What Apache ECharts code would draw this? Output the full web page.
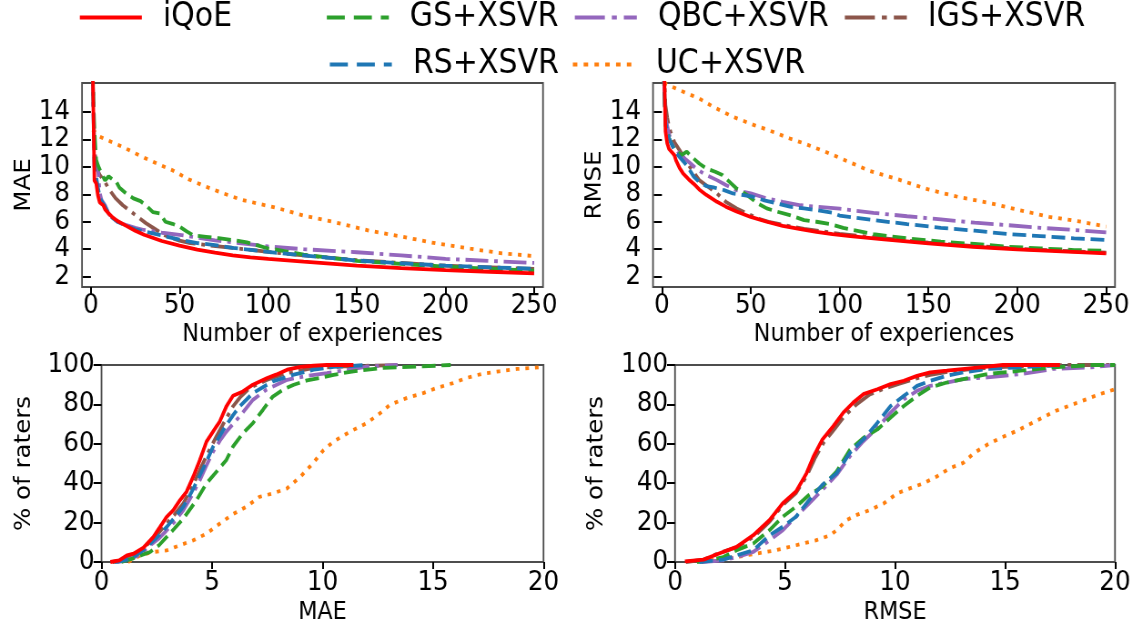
<!DOCTYPE html>
<html>
<head>
<meta charset="utf-8">
<script src="https://cdn.jsdelivr.net/npm/echarts@6/dist/echarts.min.js"></script>
<style>
html,body{margin:0;padding:0;background:#fff;overflow:hidden;width:1139px;height:626px;}
#chart{width:1252px;height:626px;transform:scaleX(0.91);transform-origin:0 0;}
</style>
</head>
<body>
<div id="chart"></div>
<script>
// ---------- names ----------
const seriesNames = ['iQoE', 'GS+XSVR', 'QBC+XSVR', 'IGS+XSVR', 'RS+XSVR', 'UC+XSVR'];

// ---------- tick labels ----------
const expTicks = [0, 50, 100, 150, 200, 250];
const errTicks = [2, 4, 6, 8, 10, 12, 14];

// ---------- MAE vs number of experiences [x, MAE] ----------
const maeExpIQoE = [[1,17.5],[2,9.0],[3,8.8],[4,7.9],[5,7.4],[6,7.3],[7,7.2],[8,6.9],[10,6.6],[12,6.35],[15,6.05],[20,5.7],[25,5.35],[30,5.05],[40,4.6],[50,4.26],[60,3.97],[70,3.75],[80,3.56],[90,3.41],[100,3.3],[120,3.09],[150,2.8],[175,2.63],[200,2.48],[225,2.36],[250,2.24]];
const maeExpGS = [[1,17],[2,12.7],[3,10.5],[4,10.1],[5,10.1],[6,9.5],[8,9.0],[10,9.3],[12,9.1],[14,9.0],[16,8.5],[20,8.05],[24,7.7],[28,7.5],[31,7.2],[35,6.7],[39,6.6],[42,6.0],[46,5.85],[50,5.65],[54,5.3],[58,5.0],[65,4.9],[72,4.8],[80,4.67],[88,4.5],[100,4.05],[106,3.94],[120,3.6],[150,3.15],[175,2.93],[200,2.73],[225,2.58],[250,2.44]];
const maeExpQBC = [[1,17],[2,10.0],[3,10.0],[4,9.9],[5,8.1],[6,7.6],[8,7.2],[10,6.6],[12,6.3],[15,6.0],[20,5.75],[25,5.55],[30,5.4],[40,5.2],[50,5.05],[60,4.85],[70,4.65],[80,4.5],[90,4.35],[100,4.2],[120,4.0],[150,3.78],[175,3.55],[200,3.3],[225,3.15],[250,3.0]];
const maeExpIGS = [[1,17],[2,11.5],[3,10.0],[5,9.4],[8,8.9],[10,8.4],[14,7.7],[18,7.2],[24,6.6],[31,5.9],[37,5.4],[42,5.0],[50,4.62],[56,4.45],[65,4.3],[80,4.1],[100,3.8],[120,3.55],[150,3.2],[175,3.0],[200,2.8],[225,2.68],[250,2.56]];
const maeExpRS = [[1,17],[2,10.0],[3,9.9],[4,8.5],[5,7.8],[6,7.5],[8,7.1],[10,6.6],[12,6.3],[15,6.0],[20,5.7],[25,5.45],[30,5.3],[40,5.0],[50,4.7],[60,4.45],[70,4.3],[80,4.1],[90,3.95],[100,3.8],[120,3.55],[150,3.18],[175,2.98],[200,2.8],[225,2.68],[250,2.58]];
const maeExpUC = [[1,12.7],[5,12.2],[10,11.9],[18,11.45],[27,10.85],[37,10.25],[46,9.75],[55,9.1],[65,8.55],[75,8.05],[85,7.6],[95,7.3],[105,7.0],[120,6.45],[138,5.95],[157,5.35],[176,4.9],[195,4.42],[214,4.04],[232,3.7],[250,3.5]];

// ---------- RMSE vs number of experiences [x, RMSE] ----------
const rmseExpIQoE = [[1,19],[2,12.6],[3,11.7],[4,11.3],[5,11.15],[6,11.0],[7,10.85],[8,10.45],[10,9.9],[12,9.5],[15,9.1],[18,8.75],[21,8.35],[25,7.95],[31,7.45],[36,7.1],[42,6.75],[50,6.35],[59,6.0],[68,5.7],[78,5.47],[87,5.27],[96,5.1],[106,4.96],[125,4.72],[150,4.42],[175,4.18],[200,3.99],[225,3.84],[250,3.7]];
const rmseExpGS = [[1,17],[2,13.0],[3,12.67],[4,12.1],[5,11.8],[7,11.3],[11,10.85],[14,11.1],[17,10.7],[21,10.24],[25,9.88],[30,9.64],[34,9.4],[37,9.03],[42,8.42],[48,7.94],[54,7.33],[59,6.97],[65,6.73],[72,6.48],[80,6.12],[87,6.0],[95,5.83],[102,5.55],[119,5.1],[138,4.79],[157,4.55],[176,4.38],[195,4.18],[213,4.06],[232,3.94],[250,3.89]];
const rmseExpQBC = [[1,17],[2,13.5],[3,13.0],[4,12.4],[6,11.6],[9,11.1],[12,10.7],[16,10.25],[20,9.8],[25,9.4],[31,9.03],[36,8.67],[42,8.3],[50,8.06],[59,7.7],[68,7.45],[78,7.2],[87,7.09],[100,6.95],[119,6.65],[138,6.4],[157,6.17],[176,5.93],[194,5.76],[213,5.56],[232,5.4],[250,5.22]];
const rmseExpIGS = [[1,18],[2,14.5],[3,13.6],[4,12.9],[5,12.5],[7,11.8],[10,11.2],[13,10.5],[17,9.76],[21,9.03],[26,8.55],[31,8.06],[36,7.45],[42,6.97],[48,6.6],[54,6.24],[60,6.0],[70,5.72],[80,5.48],[90,5.3],[100,5.12],[125,4.78],[150,4.48],[175,4.24],[200,4.04],[225,3.88],[250,3.75]];
const rmseExpRS = [[1,17],[2,13.2],[3,12.6],[4,12.1],[6,11.5],[8,11.0],[10,10.7],[14,10.1],[18,9.27],[21,8.9],[25,8.6],[29,8.5],[35,8.3],[40,8.06],[46,7.94],[51,7.82],[57,7.58],[65,7.33],[72,7.1],[80,6.97],[87,6.85],[96,6.65],[100,6.45],[119,6.12],[138,5.83],[157,5.56],[176,5.35],[195,5.1],[213,4.96],[232,4.79],[250,4.67]];
const rmseExpUC = [[1,16.1],[10,15.57],[21,14.97],[29,14.36],[40,13.64],[52,13.03],[60,12.67],[72,12.06],[80,11.7],[92,11.1],[100,10.65],[117,9.7],[133,9.08],[150,8.35],[167,7.8],[184,7.38],[201,6.85],[218,6.36],[236,6.0],[250,5.64]];

// ---------- CDF of MAE [MAE, % of raters] ----------
const maeCdfIQoE = [[0.4,0],[0.8,0.8],[1.15,3.4],[1.45,4.2],[1.9,7.3],[2.35,12.7],[2.65,17.8],[2.95,22.9],[3.25,26.3],[3.55,31.4],[3.85,35.7],[4.15,43.3],[4.45,51.8],[4.75,61.1],[5.15,67.9],[5.35,71.3],[5.65,79],[5.95,84.4],[6.4,86.6],[6.85,90],[7.5,93.4],[7.9,95.1],[8.4,97.6],[9.0,99],[9.6,99.7],[10.2,100],[11.4,100]];
const maeCdfGS = [[0.9,0],[1.4,1.7],[1.8,3.5],[2.2,5.1],[2.6,8.5],[2.95,12.7],[3.3,17],[3.7,22],[4.3,31.4],[4.75,39.9],[5.2,45.8],[5.65,51.8],[5.95,58.6],[6.4,65.4],[6.85,70.5],[7.3,77.2],[7.75,84],[8.2,87.4],[8.7,90],[9.3,92.2],[9.9,93.4],[10.5,95],[11.4,96.8],[12.75,98.5],[14.5,99.3],[15.8,100]];
const maeCdfQBC = [[0.7,0],[1.2,1],[1.6,3],[1.9,5.5],[2.2,8.5],[2.6,12],[2.95,16.1],[3.3,20.5],[3.7,26.3],[4.1,34],[4.45,41.6],[4.75,49],[5.05,56],[5.35,61.5],[5.65,66.2],[5.95,70],[6.25,73.9],[6.85,82.3],[7.45,87.4],[8.4,92.5],[9.3,94.5],[10.2,95.9],[11.2,97.6],[12,99.2],[13.4,100]];
const maeCdfIGS = [[0.5,0],[1,1],[1.3,3],[1.8,6],[2.2,10.2],[2.6,15],[2.95,19.5],[3.3,24],[3.7,29.7],[4.1,38],[4.45,46.7],[4.8,55],[5.2,63.7],[5.6,72],[5.95,79],[6.3,84],[6.7,88.3],[7.5,92.5],[8.4,95.9],[9.6,98.5],[11,99.3],[13.5,100]];
const maeCdfRS = [[0.6,0],[1.1,1],[1.5,3],[1.9,6],[2.2,9.3],[2.6,13.5],[2.95,17.8],[3.3,22.5],[3.7,28],[4.1,36],[4.45,44],[4.75,51],[5.05,58.6],[5.35,64],[5.65,69.6],[5.95,74.5],[6.25,79],[6.85,85.7],[7.75,91.7],[8.7,95.1],[9.6,97.6],[10.5,99],[12,100]];
const maeCdfUC = [[1.2,0],[1.75,3.4],[2.35,5.1],[2.95,5.9],[3.55,8.5],[4.15,11],[4.75,14.4],[5.35,19.5],[5.95,24.3],[6.55,28],[7.15,33.1],[7.75,34.8],[8.4,37.4],[9.0,43.3],[9.6,50.5],[10.05,56.9],[10.5,61.1],[11.25,66.2],[12,70.5],[12.6,75.5],[13.05,79.8],[13.8,83.2],[14.55,85.7],[15.15,88.3],[15.9,90.8],[16.5,93.4],[17.25,95.6],[18,96.8],[18.8,98],[19.5,98.5],[20,99]];

// ---------- CDF of RMSE [RMSE, % of raters] ----------
const rmseCdfIQoE = [[0.45,0.3],[1.3,1.2],[2.0,4.3],[2.8,7.7],[3.56,13.6],[4.3,21.3],[4.9,29.8],[5.5,35.8],[5.98,45.1],[6.3,53.7],[6.7,62.2],[7.2,69],[7.65,75.8],[8.1,80.9],[8.56,85.2],[9.2,87.7],[9.8,90.3],[10.4,92],[11.0,94.5],[11.6,96.3],[12.35,97.1],[13.4,98.3],[14.9,100],[17.5,100]];
const rmseCdfGS = [[1.0,0],[1.6,1],[2.2,2.5],[2.8,6],[3.56,9.4],[4.3,16.2],[4.9,23],[5.5,28.1],[6.1,34.1],[6.7,38.3],[7.35,46],[7.95,57],[8.56,63],[9.2,67.3],[9.8,73.3],[10.4,79.2],[11.0,84.3],[11.6,88.6],[12.35,91.1],[13.1,92.8],[14.2,95.4],[15.7,97.1],[17.2,98.8],[19.0,100],[20,100]];
const rmseCdfQBC = [[1.2,0],[2.2,0.85],[2.8,2.5],[3.56,5.1],[4.3,11],[4.9,16.2],[5.5,23],[6.1,29.8],[6.7,36.6],[7.35,44.3],[7.95,53.7],[8.56,61.3],[9.2,68.1],[9.8,75.8],[10.4,82.6],[11.0,86.9],[11.6,89.4],[12.35,91.1],[13.1,92.8],[14.2,93.7],[15.7,95.4],[17.2,98],[18.9,98.8],[20,100]];
const rmseCdfIGS = [[0.5,0],[1.3,1.2],[2.0,4.5],[2.8,7.5],[3.6,13],[4.3,20.5],[4.9,29],[5.5,35],[6.0,44],[6.35,52.5],[6.75,60.5],[7.25,67.5],[7.7,74],[8.25,80],[8.85,85],[9.5,88],[10.2,90.5],[10.9,93],[11.6,95],[12.4,96.5],[13.5,98],[15,99],[17.7,100],[20,100]];
const rmseCdfRS = [[1.1,0],[2.2,1.2],[2.8,3.4],[3.56,6],[4.3,13.6],[4.9,17.9],[5.5,23],[6.1,31.5],[6.7,39.2],[7.35,45.1],[7.95,55.4],[8.56,62.2],[9.2,70.7],[9.8,79.2],[10.4,84.3],[11.0,89.4],[11.6,92],[12.35,94.5],[13.1,96.3],[14.2,98],[15.7,98.8],[17.5,100]];
const rmseCdfUC = [[1.6,0.85],[2.8,2.5],[3.7,4.3],[4.6,6],[5.5,8.5],[6.4,11],[7.05,13.6],[7.35,16.2],[7.8,21.3],[8.26,23.9],[8.86,26.4],[9.5,29.8],[10.1,34.9],[10.7,37.5],[11.3,40],[11.9,43.4],[12.5,47.7],[13.1,50.3],[13.6,55.4],[14.2,59.6],[14.8,63],[15.5,66.4],[16.1,69.8],[16.7,73.3],[17.3,76.7],[17.9,79.2],[18.7,82.6],[19.3,85.2],[20,87.7]];

// ---------- chart ----------
const K = 0.91;               // horizontal squeeze of the page (matches the reference's text aspect)
const sx = v => v / K;        // screen px -> pre-transform px
const FONT = 'DejaVu Sans';
const styleOf = {
  'iQoE':     { color: '#ff0000', type: 'solid', legendType: 'solid' },
  'GS+XSVR':  { color: '#2ca02c', type: [15, 6.5], legendType: [sx(18), sx(9)] },
  'QBC+XSVR': { color: '#9467bd', type: [25, 6.5, 4, 6.5], legendType: [sx(30), sx(7), sx(5), sx(7)] },
  'IGS+XSVR': { color: '#8c564b', type: [25, 6.5, 4, 6.5], legendType: [sx(30), sx(7), sx(5), sx(7)] },
  'RS+XSVR':  { color: '#1f77b4', type: [15, 6.5], legendType: [sx(18), sx(9)] },
  'UC+XSVR':  { color: '#ff7f0e', type: [4, 6.6], legendType: [sx(4.5), sx(6.3)] }
};
const panels = [
  { 'iQoE': maeExpIQoE, 'GS+XSVR': maeExpGS, 'QBC+XSVR': maeExpQBC, 'IGS+XSVR': maeExpIGS, 'RS+XSVR': maeExpRS, 'UC+XSVR': maeExpUC },
  { 'iQoE': rmseExpIQoE, 'GS+XSVR': rmseExpGS, 'QBC+XSVR': rmseExpQBC, 'IGS+XSVR': rmseExpIGS, 'RS+XSVR': rmseExpRS, 'UC+XSVR': rmseExpUC },
  { 'iQoE': maeCdfIQoE, 'GS+XSVR': maeCdfGS, 'QBC+XSVR': maeCdfQBC, 'IGS+XSVR': maeCdfIGS, 'RS+XSVR': maeCdfRS, 'UC+XSVR': maeCdfUC },
  { 'iQoE': rmseCdfIQoE, 'GS+XSVR': rmseCdfGS, 'QBC+XSVR': rmseCdfQBC, 'IGS+XSVR': rmseCdfIGS, 'RS+XSVR': rmseCdfRS, 'UC+XSVR': rmseCdfUC }
];
const drawOrder = ['UC+XSVR', 'IGS+XSVR', 'QBC+XSVR', 'GS+XSVR', 'RS+XSVR', 'iQoE'];

const tickTxt = { fontFamily: FONT, fontSize: 27, color: '#000', lineHeight: 20, showMinLabel: true, showMaxLabel: true, hideOverlap: false };
const nameTxt = { fontFamily: FONT, fontSize: 24.5, color: '#000' };
const tick = { show: true, length: 7, lineStyle: { width: 2, color: '#000' } };
const tickY = { show: true, length: sx(8), lineStyle: { width: 2, color: '#000' } };

function expX(gi) {
  return {
    type: 'value', gridIndex: gi, min: -5, max: 255,
    axisLine: { show: false },
    axisTick: Object.assign({}, tick, { customValues: expTicks }),
    axisLabel: Object.assign({}, tickTxt, { customValues: expTicks, margin: 9 }),
    splitLine: { show: false },
    name: 'Number of experiences', nameLocation: 'middle', nameGap: 35,
    nameTextStyle: nameTxt
  };
}
function errY(gi, name) {
  return {
    type: 'value', gridIndex: gi, min: 1.25, max: 16.1,
    axisLine: { show: false },
    axisTick: Object.assign({}, tickY, { customValues: errTicks }),
    axisLabel: Object.assign({}, tickTxt, { customValues: errTicks, margin: sx(12) }),
    splitLine: { show: false },
    name: name, nameLocation: 'middle', nameGap: 49, nameRotate: 90,
    nameTextStyle: nameTxt
  };
}
function cdfX(gi, name) {
  return {
    type: 'value', gridIndex: gi, min: 0, max: 20, interval: 5,
    axisLine: { show: false }, axisTick: tick,
    axisLabel: Object.assign({}, tickTxt, { margin: 11 }),
    splitLine: { show: false },
    name: name, nameLocation: 'middle', nameGap: 38, nameTextStyle: nameTxt
  };
}
function cdfY(gi, gap) {
  return {
    type: 'value', gridIndex: gi, min: 0, max: 100, interval: 20,
    axisLine: { show: false }, axisTick: tickY,
    axisLabel: Object.assign({}, tickTxt, { margin: sx(7) }),
    splitLine: { show: false },
    name: '% of raters', nameLocation: 'middle', nameGap: gap, nameRotate: 90,
    nameTextStyle: nameTxt
  };
}

const gridStyle = { show: true, borderColor: '#4d4d4d', borderWidth: 1.8, backgroundColor: 'transparent' };
const grids = [
  Object.assign({ left: sx(82), top: 83, width: sx(461), height: 204 }, gridStyle),
  Object.assign({ left: sx(653), top: 83, width: sx(462), height: 204 }, gridStyle),
  Object.assign({ left: sx(101.5), top: 365, width: sx(442), height: 197 }, gridStyle),
  Object.assign({ left: sx(675), top: 365, width: sx(440), height: 197 }, gridStyle)
];

const series = [];
panels.forEach((p, gi) => {
  drawOrder.forEach(name => {
    const st = styleOf[name];
    series.push({
      type: 'line', name: name, xAxisIndex: gi, yAxisIndex: gi,
      data: p[name], showSymbol: false, symbol: 'none', smooth: false,
      clip: true,
      lineStyle: { color: st.color, width: 3.8, type: st.type, cap: 'butt' },
      itemStyle: { color: st.color },
      emphasis: { disabled: true }
    });
  });
});

const legendPos = [
  { name: 'iQoE', left: 78, top: 1 },
  { name: 'GS+XSVR', left: 325, top: 1 },
  { name: 'QBC+XSVR', left: 573, top: 1 },
  { name: 'IGS+XSVR', left: 843, top: 1 },
  { name: 'RS+XSVR', left: 328, top: 48 },
  { name: 'UC+XSVR', left: 571, top: 48 }
];
const legends = legendPos.map(l => ({
  data: [l.name], left: sx(l.left), top: l.top, padding: 0,
  itemWidth: sx(62), itemHeight: 14, selectedMode: false,
  itemStyle: { opacity: 0 },
  lineStyle: { width: 4, type: styleOf[l.name].legendType, color: styleOf[l.name].color, cap: 'butt' },
  textStyle: { fontFamily: FONT, fontSize: 33, color: '#000', padding: [0, 0, 0, sx(21) - 5], lineHeight: 33 }
}));

const chart = echarts.init(document.getElementById('chart'), null, { renderer: 'canvas' });
chart.setOption({
  animation: false,
  backgroundColor: '#fff',
  legend: legends,
  grid: grids,
  xAxis: [expX(0), expX(1), cdfX(2, 'MAE'), cdfX(3, 'RMSE')],
  yAxis: [errY(0, 'MAE'), errY(1, 'RMSE'), cdfY(2, 72), cdfY(3, 74)],
  series: series
});
</script>
</body>
</html>
